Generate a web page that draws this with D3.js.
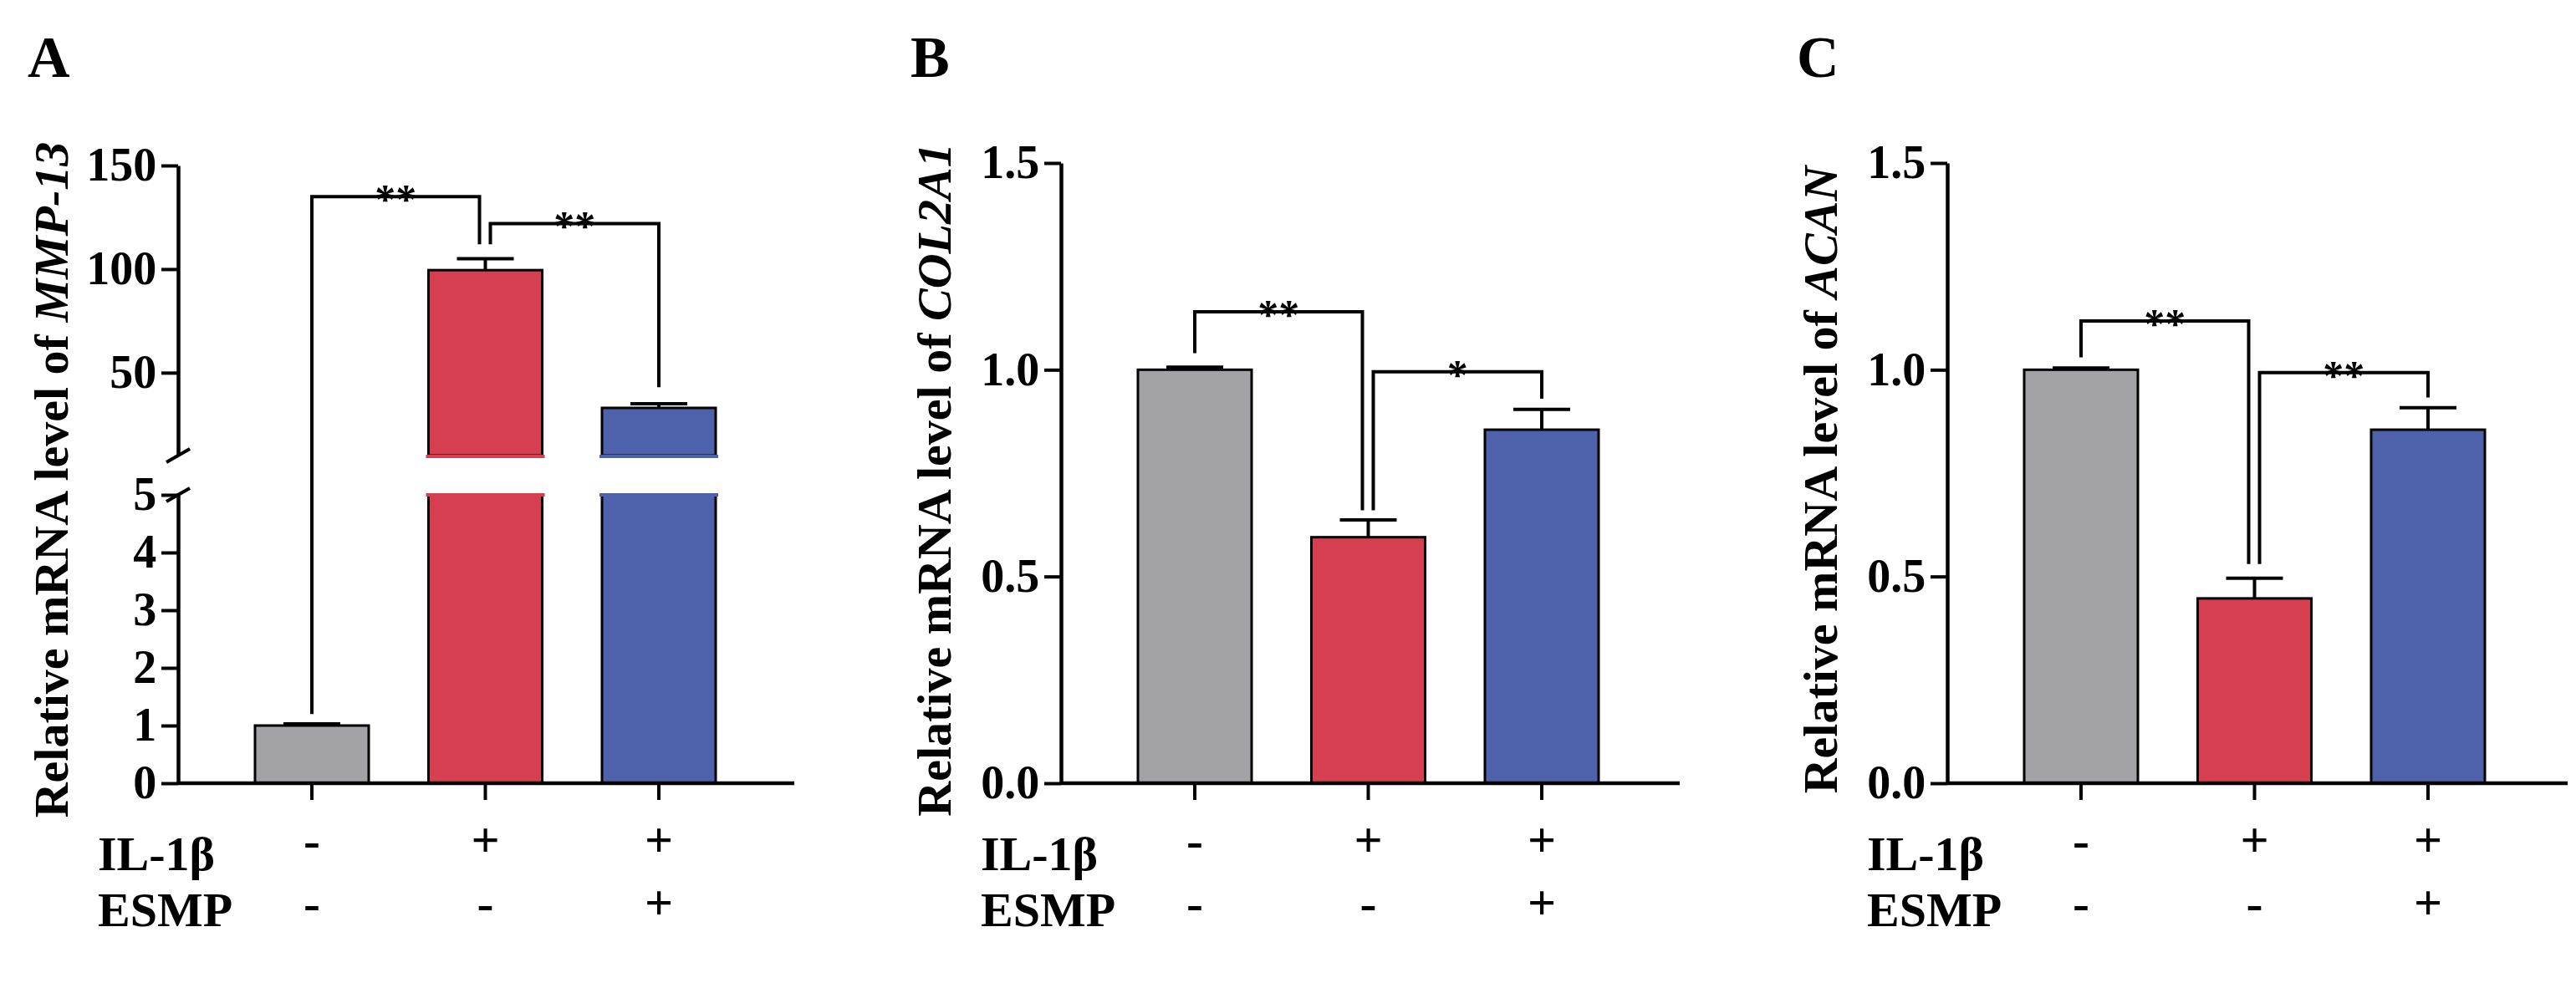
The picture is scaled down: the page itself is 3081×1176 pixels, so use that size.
<!DOCTYPE html>
<html>
<head>
<meta charset="utf-8">
<script src="https://cdn.jsdelivr.net/npm/d3@7"></script>
<style>
  body { margin: 0; background: #fff; }
  text { font-family: "Liberation Serif", "Times New Roman", serif; font-weight: bold; }
</style>
</head>
<body>
<svg id="fig" width="3081" height="1176"></svg>
<script>
var groups = ['ctrl', 'il1b', 'il1b_esmp'];
var il1bRow = ['-', '+', '+'];
var esmpRow = ['-', '-', '+'];
var barColors = ['#a3a2a7', '#d63f4f', '#4d62aa'];

// panel A: MMP-13 (broken axis)
var mmpMean = [1.0, 99.5, 33];
var mmpErr = [0.03, 5.5, 2];
var mmpLowerTicks = [0, 1, 2, 3, 4, 5];
var mmpUpperTicks = [50, 100, 150];
// [left group, right group, bracket y, left leg end, right leg end, label]
var mmpSig = [[0, 1, 135, 1.2, 112, '**'], [1, 2, 122, 112, 43, '**']];

// panel B: COL2A1
var colMean = [1.0, 0.595, 0.855];
var colErr = [0.006, 0.042, 0.049];
var colSig = [[0, 1, 1.14, 1.04, 0.66, '**'], [1, 2, 0.995, 0.66, 0.93, '*']];

// panel C: ACAN
var acanMean = [1.0, 0.447, 0.855];
var acanErr = [0.004, 0.049, 0.053];
var acanSig = [[0, 1, 1.118, 1.03, 0.53, '**'], [1, 2, 0.993, 0.53, 0.933, '**']];

var linearTicks = [0, 0.5, 1.0, 1.5];

var svg = d3.select('#fig');
var yTop = 195, yBase = 937, barW = 136;

function drawPanel(cfg) {
    var g = svg.append('g').attr('transform', 'translate(' + cfg.axisX + ',0)');
    var x = d3.scalePoint().domain(groups).range([160, 575]);
    var yVal;   // maps a value to pixel y

    if (cfg.broken) {
        var yLow = d3.scaleLinear().domain([0, 5]).range([yBase, 592]);
        var yUp = d3.scaleLinear().domain([10, 150]).range([545, 198]);
        yVal = function (v) { return v > 5 ? yUp(v) : yLow(v); };

        g.append('g').attr('class', 'axis')
            .call(d3.axisLeft(yLow).tickValues(mmpLowerTicks).tickSize(20).tickSizeOuter(0).tickFormat(d3.format('d')));
        g.append('g').attr('class', 'axis')
            .call(d3.axisLeft(yUp).tickValues(mmpUpperTicks).tickSize(20).tickSizeOuter(0).tickFormat(d3.format('d')));
        // bars, split by the break
        groups.forEach(function (k, i) {
            var v = cfg.mean[i];
            var top = yVal(v);
            if (v > 5) {
                g.append('rect').attr('x', x(k) - barW / 2).attr('y', yLow(5))
                    .attr('width', barW).attr('height', yBase - yLow(5))
                    .attr('fill', barColors[i]).attr('stroke', '#000').attr('stroke-width', 3);
                g.append('rect').attr('x', x(k) - barW / 2).attr('y', top)
                    .attr('width', barW).attr('height', yUp(10) - top)
                    .attr('fill', barColors[i]).attr('stroke', '#000').attr('stroke-width', 3);
                // hide the horizontal strokes at the break edges
                g.append('rect').attr('x', x(k) - barW / 2 - 3).attr('y', yUp(10) - 1)
                    .attr('width', barW + 6).attr('height', 4).attr('fill', barColors[i]);
                g.append('rect').attr('x', x(k) - barW / 2 - 3).attr('y', yLow(5) - 2)
                    .attr('width', barW + 6).attr('height', 4).attr('fill', barColors[i]);
            } else {
                g.append('rect').attr('x', x(k) - barW / 2).attr('y', top)
                    .attr('width', barW).attr('height', yBase - top)
                    .attr('fill', barColors[i]).attr('stroke', '#000').attr('stroke-width', 3);
            }
        });
        // break marks
        [yUp(10), yLow(5)].forEach(function (yy) {
            g.append('line').attr('x1', -14).attr('x2', 14).attr('y1', yy + 8).attr('y2', yy - 8)
                .attr('stroke', '#000').attr('stroke-width', 4);
        });
    } else {
        var y = d3.scaleLinear().domain([0, 1.5]).range([yBase, yTop]);
        yVal = y;
        g.append('g').attr('class', 'axis')
            .call(d3.axisLeft(y).tickValues(linearTicks).tickSize(20).tickSizeOuter(0).tickFormat(d3.format('.1f')));
        g.selectAll('rect.bar').data(cfg.mean).enter().append('rect')
            .attr('x', function (d, i) { return x(groups[i]) - barW / 2; })
            .attr('y', function (d) { return y(d); })
            .attr('width', barW)
            .attr('height', function (d) { return yBase - y(d); })
            .attr('fill', function (d, i) { return barColors[i]; })
            .attr('stroke', '#000').attr('stroke-width', 3);
    }

    g.selectAll('.axis path, .axis line').attr('stroke', '#000').attr('stroke-width', 4);
    g.selectAll('.axis .domain').attr('stroke-width', 4.5);
    g.selectAll('.axis text').attr('font-size', 56).attr('font-family', '"Liberation Serif", serif')
        .attr('font-weight', 'bold').attr('fill', '#000').attr('dx', '-0.05em');

    // x axis line with downward ticks
    g.append('line').attr('x1', 0).attr('x2', cfg.axisLen).attr('y1', yBase).attr('y2', yBase)
        .attr('stroke', '#000').attr('stroke-width', 4.5);
    groups.forEach(function (k) {
        g.append('line').attr('x1', x(k)).attr('x2', x(k)).attr('y1', yBase).attr('y2', yBase + 20)
            .attr('stroke', '#000').attr('stroke-width', 4);
    });

    // error bars (upper only)
    groups.forEach(function (k, i) {
        var y0 = yVal(cfg.mean[i]), y1 = yVal(cfg.mean[i] + cfg.err[i]);
        g.append('line').attr('x1', x(k)).attr('x2', x(k)).attr('y1', y0).attr('y2', y1)
            .attr('stroke', '#000').attr('stroke-width', 4);
        g.append('line').attr('x1', x(k) - 34).attr('x2', x(k) + 34).attr('y1', y1).attr('y2', y1)
            .attr('stroke', '#000').attr('stroke-width', 4);
    });

    // significance brackets
    cfg.sig.forEach(function (s) {
        var xl = x(groups[s[0]]) + (s[0] === 1 ? 6 : 0);
        var xr = x(groups[s[1]]) - (s[1] === 1 ? 7 : 0);
        var yb = yVal(s[2]);
        g.append('path')
            .attr('d', 'M' + xl + ',' + yVal(s[3]) + 'V' + yb + 'H' + xr + 'V' + yVal(s[4]))
            .attr('fill', 'none').attr('stroke', '#000').attr('stroke-width', 4);
        g.append('text').attr('x', (xl + xr) / 2).attr('y', yb + 20)
            .attr('text-anchor', 'middle').attr('font-size', 50).text(s[5]);
    });

    // condition rows: [signs, label, label baseline, sign baseline]
    [[il1bRow, 'IL-1β', 1041, 1025], [esmpRow, 'ESMP', 1108, 1100]].forEach(function (row) {
        g.append('text').attr('x', -96).attr('y', row[2]).attr('font-size', 58).text(row[1]);
        row[0].forEach(function (sign, i) {
            g.append('text').attr('x', x(groups[i])).attr('y', row[3])
                .attr('text-anchor', 'middle').attr('font-size', 60).text(sign);
        });
    });

    // y title
    var t = g.append('text')
        .attr('transform', 'translate(' + (-132) + ',' + 574 + ') rotate(-90)')
        .attr('text-anchor', 'middle').attr('font-size', 58);
    t.append('tspan').text('Relative mRNA level of ');
    t.append('tspan').attr('font-style', 'italic').text(cfg.gene);

    // panel letter
    g.append('text').attr('x', -180).attr('y', 92).attr('font-size', 70).text(cfg.letter);
}

drawPanel({ letter: 'A', axisX: 213, axisLen: 737, broken: true, gene: 'MMP-13',
    mean: mmpMean, err: mmpErr, sig: mmpSig });
drawPanel({ letter: 'B', axisX: 1269, axisLen: 740, broken: false, gene: 'COL2A1',
    mean: colMean, err: colErr, sig: colSig });
drawPanel({ letter: 'C', axisX: 2329, axisLen: 742, broken: false, gene: 'ACAN',
    mean: acanMean, err: acanErr, sig: acanSig });
</script>
</body>
</html>
